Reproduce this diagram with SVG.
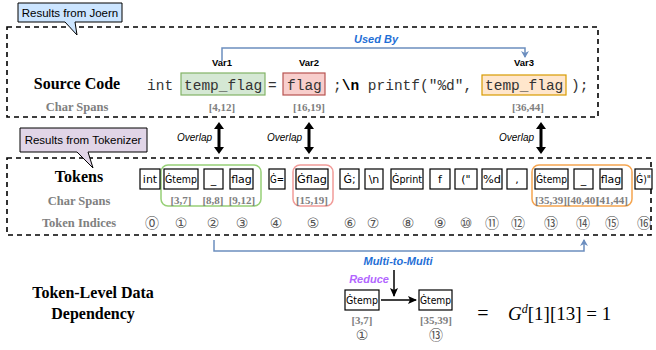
<svg xmlns="http://www.w3.org/2000/svg" width="656" height="350" viewBox="0 0 656 350">
<style>
.dash{fill:none;stroke:#000;stroke-width:1.6;stroke-dasharray:5,4}
.title{font-family:"Liberation Serif",serif;font-weight:bold;font-size:16px;text-anchor:middle;fill:#000}
.sub{font-family:"Liberation Serif",serif;font-weight:bold;font-size:12.5px;text-anchor:middle;fill:#808080}
.span{font-family:"Liberation Serif",serif;font-weight:bold;font-size:11px;text-anchor:middle;fill:#808080}
.code{font-family:"Liberation Mono",monospace;font-size:14.5px;fill:#333}
.var{font-family:"Liberation Sans",sans-serif;font-weight:bold;font-size:9.5px;text-anchor:middle;fill:#000}
.ov{font-family:"Liberation Sans",sans-serif;font-style:italic;font-size:10px;text-anchor:end;fill:#000}
.tok{fill:#fff;stroke:#000;stroke-width:1.2}
.tt{font-family:"DejaVu Sans",sans-serif;font-size:11px;text-anchor:middle;fill:#000}
.idx{font-family:"DejaVu Sans","Noto Sans CJK SC",sans-serif;font-size:14px;text-anchor:middle;fill:#555}
.blue{fill:none;stroke:#6c8ebf;stroke-width:1.5}
.bl{font-family:"Liberation Sans",sans-serif;font-style:italic;font-weight:bold;font-size:11px;text-anchor:middle;fill:#1f6fd6}
.callout{font-family:"Liberation Sans",sans-serif;font-size:11.5px;fill:#000}
</style>
<defs>
<marker id="ab" markerWidth="8" markerHeight="8" refX="6" refY="4" orient="auto" markerUnits="userSpaceOnUse"><path d="M0,0 L7,4 L0,8 L2,4 Z" fill="#6c8ebf"/></marker>
<marker id="ak" markerWidth="10" markerHeight="10" refX="8" refY="5" orient="auto" markerUnits="userSpaceOnUse"><path d="M0,1 L9,5 L0,9 L2,5 Z" fill="#000"/></marker>
</defs>

<!-- Source code section -->
<g id="source-box">
<rect class="dash" x="7" y="27" width="591" height="90"/>
<text class="title" x="77" y="89">Source Code</text>
<text class="sub" x="77" y="111">Char Spans</text>
</g>
<g id="joern-callout">
<path d="M18,3 H122 V22 H75 L77,35 L65,22 H18 Z" fill="#cce5ff" stroke="#000" stroke-width="1"/>
<text class="callout" x="70" y="17" text-anchor="middle">Results from Joern</text>
</g>
<g id="code">
<text class="code" x="147" y="90">int</text>
<text class="code" x="268" y="90">=</text>
<text class="code" x="333" y="90">;<tspan font-weight="bold" fill="#000">\n</tspan> printf("%d",</text>
<text class="code" x="571" y="90">);</text>
</g>
<g id="var1">
<rect x="181" y="73" width="84" height="22" fill="#d5e8d4" stroke="#82b366" stroke-width="1.2"/>
<text class="code" x="184" y="90">temp_flag</text>
<text class="var" x="222" y="66">Var1</text>
<text class="span" x="222" y="111">[4,12]</text>
</g>
<g id="var2">
<rect x="283" y="73" width="42" height="22" fill="#f8cecc" stroke="#b85450" stroke-width="1.2"/>
<text class="code" x="287" y="90">flag</text>
<text class="var" x="309" y="66">Var2</text>
<text class="span" x="309" y="111">[16,19]</text>
</g>
<g id="var3">
<rect x="482" y="75" width="84" height="20" fill="#ffe6cc" stroke="#d79b00" stroke-width="1.2"/>
<text class="code" x="485" y="90">temp_flag</text>
<text class="var" x="524" y="66">Var3</text>
<text class="span" x="528" y="111">[36,44]</text>
</g>

<!-- Tokens section -->
<g id="token-box">
<rect class="dash" x="7" y="158" width="644" height="77"/>
<text class="title" x="79" y="182">Tokens</text>
<text class="sub" x="79" y="205">Char Spans</text>
<text class="sub" x="79" y="227">Token Indices</text>
</g>
<g id="tokenizer-callout">
<path d="M20,128 H147 V152 H88 L93,168 L77,152 H20 Z" fill="#e1d5e7" stroke="#000" stroke-width="1"/>
<text class="callout" x="83" y="144" text-anchor="middle">Results from Tokenizer</text>
</g>
<g id="groups">
<rect x="161" y="165" width="100" height="41" rx="7" fill="none" stroke="#97d077" stroke-width="1.5"/>
<rect x="293" y="165" width="40" height="41" rx="7" fill="none" stroke="#f19c99" stroke-width="1.5"/>
<rect x="532" y="165" width="100" height="41" rx="7" fill="none" stroke="#f5a550" stroke-width="1.5"/>
</g>
<g id="tokens">
<rect class="tok" x="140" y="169" width="20" height="20"/><text class="tt" x="150" y="183">int</text>
<rect class="tok" x="164" y="169" width="34" height="20"/><text class="tt" x="181" y="183" textLength="32" lengthAdjust="spacingAndGlyphs">Ġtemp</text>
<rect class="tok" x="204" y="169" width="19" height="20"/><text class="tt" x="213.5" y="183">_</text>
<rect class="tok" x="230" y="169" width="23" height="20"/><text class="tt" x="241.5" y="183">flag</text>
<rect class="tok" x="269" y="169" width="16" height="20"/><text class="tt" x="277" y="183" textLength="14" lengthAdjust="spacingAndGlyphs">Ġ=</text>
<rect class="tok" x="296" y="169" width="32" height="20"/><text class="tt" x="312" y="183" textLength="30" lengthAdjust="spacingAndGlyphs">Ġflag</text>
<rect class="tok" x="340" y="169" width="19" height="20"/><text class="tt" x="349.5" y="183">Ġ;</text>
<rect class="tok" x="365" y="169" width="18" height="20"/><text class="tt" x="374" y="183">\n</text>
<rect class="tok" x="391" y="169" width="32" height="20"/><text class="tt" x="407" y="183" textLength="30" lengthAdjust="spacingAndGlyphs">Ġprint</text>
<rect class="tok" x="430" y="169" width="20" height="20"/><text class="tt" x="440" y="183">f</text>
<rect class="tok" x="455" y="169" width="22" height="20"/><text class="tt" x="466" y="183">("</text>
<rect class="tok" x="482" y="169" width="20" height="20"/><text class="tt" x="492" y="183" textLength="18" lengthAdjust="spacingAndGlyphs">%d</text>
<rect class="tok" x="507" y="169" width="20" height="20"/><text class="tt" x="517" y="183">,</text>
<rect class="tok" x="535" y="169" width="33" height="20"/><text class="tt" x="551.5" y="183" textLength="31" lengthAdjust="spacingAndGlyphs">Ġtemp</text>
<rect class="tok" x="574" y="169" width="19" height="20"/><text class="tt" x="583.5" y="183">_</text>
<rect class="tok" x="600" y="169" width="22" height="20"/><text class="tt" x="611" y="183">flag</text>
<rect class="tok" x="635" y="169" width="17" height="20"/><text class="tt" x="643.5" y="183" textLength="15" lengthAdjust="spacingAndGlyphs">Ġ)"</text>
</g>
<g id="token-spans">
<text class="span" x="181" y="204">[3,7]</text>
<text class="span" x="213" y="204">[8,8]</text>
<text class="span" x="242" y="204">[9,12]</text>
<text class="span" x="312" y="204">[15,19]</text>
<text class="span" x="551" y="204">[35,39]</text>
<text class="span" x="583" y="204">[40,40]</text>
<text class="span" x="612" y="204">[41,44]</text>
</g>
<g id="token-indices">
<text class="idx" x="152" y="228">⓪</text>
<text class="idx" x="181" y="228">①</text>
<text class="idx" x="213" y="228">②</text>
<text class="idx" x="242" y="228">③</text>
<text class="idx" x="276" y="228">④</text>
<text class="idx" x="313" y="228">⑤</text>
<text class="idx" x="350" y="228">⑥</text>
<text class="idx" x="373" y="228">⑦</text>
<text class="idx" x="408" y="228">⑧</text>
<text class="idx" x="440" y="228">⑨</text>
<text class="idx" x="466" y="228">⑩</text>
<text class="idx" x="492" y="228">⑪</text>
<text class="idx" x="518" y="228">⑫</text>
<text class="idx" x="551" y="228">⑬</text>
<text class="idx" x="583" y="228">⑭</text>
<text class="idx" x="612" y="228">⑮</text>
<text class="idx" x="644" y="228">⑯</text>
</g>

<!-- Token-level data dependency -->
<g id="tldd-label">
<text class="title" x="93" y="298" font-size="14.5px">Token-Level Data</text>
<text class="title" x="93" y="319" font-size="14.5px">Dependency</text>
</g>
<g id="dep-src">
<rect class="tok" x="345" y="290" width="34" height="20"/><text class="tt" x="362" y="304" textLength="32" lengthAdjust="spacingAndGlyphs">Ġtemp</text>
<text class="span" x="362" y="324">[3,7]</text>
<text class="idx" x="362" y="340">①</text>
</g>
<g id="dep-dst">
<rect class="tok" x="419" y="290" width="33" height="20"/><text class="tt" x="435.5" y="304" textLength="31" lengthAdjust="spacingAndGlyphs">Ġtemp</text>
<text class="span" x="436" y="324">[35,39]</text>
<text class="idx" x="436" y="340">⑬</text>
</g>
<g id="formula">
<text x="483" y="320" font-family="Liberation Serif,serif" font-size="20px" text-anchor="middle">=</text>
<text x="508" y="320" font-family="Liberation Serif,serif" font-size="19px"><tspan font-style="italic">G</tspan><tspan font-style="italic" font-size="12px" dy="-7">d</tspan><tspan dy="7">[1][13] = 1</tspan></text>
</g>

<!-- Connectors -->
<g id="connectors">
<path class="blue" d="M222,61 V48 H525 V57" marker-end="url(#ab)"/>
<text class="bl" x="376" y="43">Used By</text>
<g fill="#000">
<path d="M219,122 L224,129 L220.5,129 L220.5,147 L224,147 L219,154 L214,147 L217.5,147 L217.5,129 L214,129 Z"/>
<path d="M309,122 L314,129 L310.5,129 L310.5,147 L314,147 L309,154 L304,147 L307.5,147 L307.5,129 L304,129 Z"/>
<path d="M541,122 L546,129 L542.5,129 L542.5,147 L546,147 L541,154 L536,147 L539.5,147 L539.5,129 L536,129 Z"/>
</g>
<text class="ov" x="212" y="141">Overlap</text>
<text class="ov" x="302" y="141">Overlap</text>
<text class="ov" x="534" y="141">Overlap</text>
<path class="blue" d="M214,240 V251 H584 V240" marker-end="url(#ab)"/>
<text class="bl" x="398" y="265">Multi-to-Multi</text>
<line x1="394" y1="270" x2="394" y2="296" stroke="#000" stroke-width="1.5" marker-end="url(#ak)"/>
<text class="bl" x="369" y="283" style="fill:#b266ff">Reduce</text>
<line x1="381" y1="300" x2="416" y2="300" stroke="#000" stroke-width="1.5" marker-end="url(#ak)"/>
</g>
</svg>
